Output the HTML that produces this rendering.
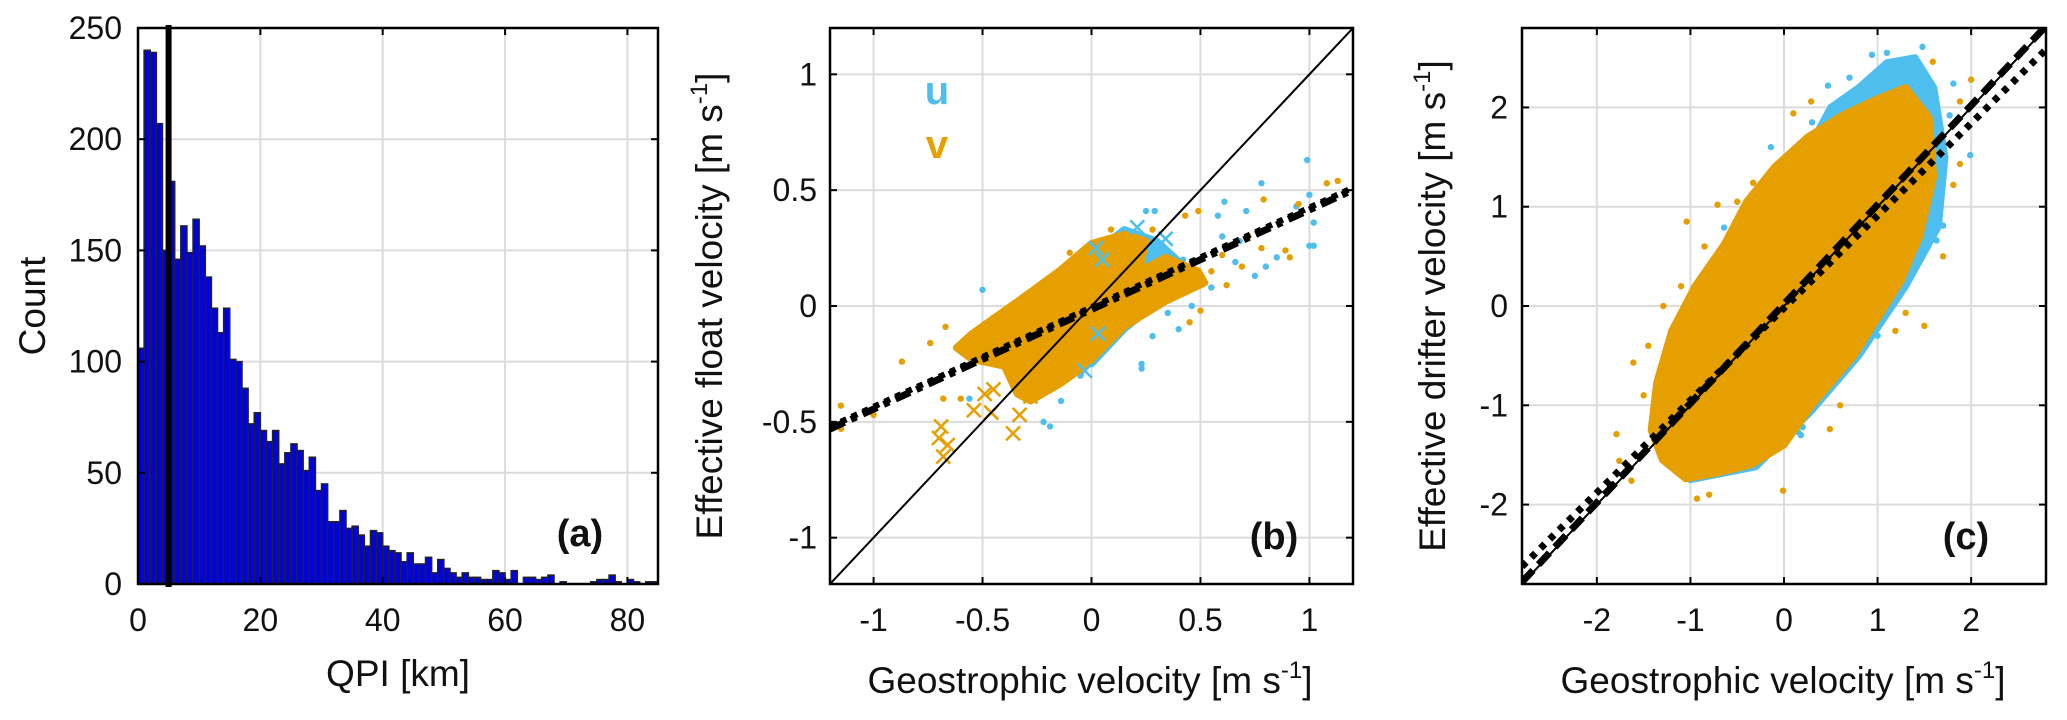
<!DOCTYPE html>
<html><head><meta charset="utf-8"><style>
html,body{margin:0;padding:0;background:#fff;}
svg{display:block;font-family:"Liberation Sans",Arial,sans-serif;}
</style></head><body>
<svg id="fig" width="2067" height="720" viewBox="0 0 2067 720"></svg>
<script>
// ---------- Panel (a) data ----------
const histCounts=[106,240,239,207,150,181,146,161,149,164,152,138,124,113,124,101,100,88,72,77,69,64,69,54,59,63,60,51,57,42,45,28,28,33,25,26,22,17,24,23,17,15,14,10,14,9,9,12,5,11,7,5,3,5,3,3,2,2,6,5,2,6,0,3,3,2,3,4,0,1,0,0,0,0,1,2,2,4,1,0,2,1,0,1,1];
const histXTicks=[0,20,40,60,80];
const histYTicks=[0,50,100,150,200,250];
const qpiThreshold=5;
// ---------- Panel (b) data ----------
const bTicks=[-1,-0.5,0,0.5,1];
const bTickLabels=["-1","-0.5","0","0.5","1"];
const bBlobV=[[-0.62,-0.18],[-0.55,-0.12],[-0.34,0.02],[-0.15,0.15],[0,0.27],[0.15,0.31],[0.25,0.28],[0.22,0.15],[0.34,0.21],[0.49,0.15],[0.52,0.1],[0.34,0.02],[0.15,-0.09],[-0.03,-0.26],[-0.15,-0.34],[-0.28,-0.41],[-0.34,-0.38],[-0.4,-0.26],[-0.55,-0.23]];
const bBlobU=[[0.0,0.22],[0.15,0.33],[0.3,0.28],[0.45,0.15],[0.35,0.05],[0.15,-0.1],[0.0,-0.25],[-0.1,-0.15]];
const bPtsU=[[0.78,0.53],[1.0,0.48],[1.02,0.36],[1.02,0.26],[0.61,0.45],[0.58,0.39],[0.71,0.41],[0.85,0.21],[0.8,0.17],[0.75,0.13],[0.29,0.41],[0.25,0.41],[-0.5,0.07],[0.23,-0.25],[0.23,-0.27],[-0.19,-0.52],[-0.22,-0.5],[0.28,-0.13],[-0.56,-0.4],[-0.14,-0.41],[0.94,0.43],[0.66,0.19],[0.46,0],[0.55,0.08],[0.38,0.05],[0.99,0.63],[1.0,0.26],[0.6,0.3],[0.68,0.28],[0.42,0.2],[0.35,-0.03],[0.4,-0.1],[-0.05,-0.3],[-0.1,-0.2],[0.05,-0.18]];
const bPtsV=[[-0.87,-0.24],[-1.0,-0.47],[-1.15,-0.43],[-1.15,-0.53],[-0.74,-0.16],[-0.67,-0.09],[-0.68,-0.4],[-0.6,-0.4],[0.49,0.41],[0.79,0.46],[1.08,0.53],[1.13,0.54],[0.91,0.21],[0.89,0.24],[0.78,0.25],[0.5,-0.02],[0.45,-0.07],[0.62,0.09],[0.69,0.17],[0.43,0.39],[0.28,0.33],[0.09,0.33],[-0.1,0.23],[0.95,0.44],[0.6,0.22],[0.72,0.3],[0.55,0.15],[-0.45,-0.05],[-0.5,-0.2]];
const bCrossV=[[-0.69,-0.52],[-0.66,-0.6],[-0.68,-0.65],[-0.7,-0.57],[-0.54,-0.45],[-0.49,-0.38],[-0.45,-0.36],[-0.46,-0.46],[-0.36,-0.55],[-0.33,-0.47],[-0.28,-0.39],[-0.25,-0.33]];
const bCrossU=[[0.02,0.25],[0.21,0.34],[0.34,0.29],[0.03,-0.12],[-0.03,-0.28],[0.05,0.2]];
const bFit=[0.43,-0.015];
// ---------- Panel (c) data ----------
const cTicks=[-2,-1,0,1,2];
const cTickLabels=["-2","-1","0","1","2"];
const cBlobV=[[-1.42,-1.25],[-1.36,-0.77],[-1.2,-0.25],[-0.95,0.2],[-0.64,0.62],[-0.4,1.05],[-0.1,1.4],[0.25,1.7],[0.62,1.92],[0.98,2.08],[1.3,2.2],[1.55,1.9],[1.6,1.3],[1.45,0.7],[1.25,0.25],[1.05,-0.05],[0.75,-0.5],[0.3,-1.0],[0.0,-1.4],[-0.35,-1.6],[-0.7,-1.68],[-1.05,-1.74],[-1.3,-1.55]];
const cBlobU=[[-1.4,-1.3],[-1.0,-1.75],[-0.3,-1.62],[0.3,-1.05],[0.8,-0.5],[1.3,0.2],[1.65,0.8],[1.72,1.5],[1.6,2.2],[1.4,2.5],[1.1,2.45],[0.8,2.2],[0.5,2.0]];
const cPtsV=[[-1.04,0.85],[0.29,2.06],[0.1,1.94],[-0.33,1.24],[-0.71,1.02],[-1.29,0],[-1.61,-0.57],[-1.79,-1.29],[-1.63,-1.76],[-0.93,-1.94],[-0.01,-1.86],[0.49,-1.24],[1.19,-0.25],[1.3,-0.07],[1.88,1.43],[1.81,1.22],[2.0,2.28],[1.88,2.06],[1.59,2.46],[-1.76,-1.56],[-1.5,-0.9],[-1.45,-0.4],[-0.8,-1.9],[0.6,-1.0],[-0.5,1.05],[-0.85,0.6],[-1.1,0.2],[1.7,0.5],[1.5,-0.2]];
const cPtsU=[[1.48,2.61],[0.94,2.53],[0.47,2.22],[-0.14,1.6],[1.99,1.52],[1.7,0.81],[1.63,0.66],[1.16,0.04],[0.15,-1.27],[0.2,-1.22],[0.1,-1.22],[0.18,-1.3],[0.05,-1.28],[0.12,-1.18],[-0.93,-1.67],[-0.64,0.79],[1.77,1.92],[1.81,2.24],[1.1,2.55],[0.7,2.3],[0.3,1.85],[1.0,-0.3]];
const cFitDash=[1.0,0.02];
const cFitDot=[0.93,-0.02];

const NS="http://www.w3.org/2000/svg";
const svg=document.getElementById('fig');
function mk(tag,attrs,parent){const e=document.createElementNS(NS,tag);for(const k in attrs)e.setAttribute(k,attrs[k]);(parent||svg).appendChild(e);return e;}
const BLUE="#4DBEEE", ORANGE="#E69F00";

function axes(x0,y0,x1,y1,xmin,xmax,ymin,ymax){
  return {sx:v=>x0+(v-xmin)/(xmax-xmin)*(x1-x0), sy:v=>y1-(v-ymin)/(ymax-ymin)*(y1-y0), x0,y0,x1,y1};
}
function grid(a,xt,yt,g){
  xt.forEach(v=>{const l=mk('line',{x1:a.sx(v),x2:a.sx(v),y1:a.y0,y2:a.y1,stroke:'#dcdcdc','stroke-width':2},g);
    });
  yt.forEach(v=>{const l=mk('line',{x1:a.x0,x2:a.x1,y1:a.sy(v),y2:a.sy(v),stroke:'#dcdcdc','stroke-width':2},g);
    });
}
function frame(a,xt,yt,xl,yl,yRight,g){
  const tl=7;
  xt.forEach((v,i)=>{const x=a.sx(v);
    mk('line',{x1:x,x2:x,y1:a.y1,y2:a.y1-tl,stroke:'#000','stroke-width':2},g);
    mk('line',{x1:x,x2:x,y1:a.y0,y2:a.y0+tl,stroke:'#000','stroke-width':2},g);
    const t=mk('text',{x:x,y:a.y1+47,'font-size':32,'text-anchor':'middle',fill:'#111'},g);t.textContent=xl[i];
    });
  yt.forEach((v,i)=>{const y=a.sy(v);
    mk('line',{x1:a.x0,x2:a.x0+tl,y1:y,y2:y,stroke:'#000','stroke-width':2},g);
    mk('line',{x1:a.x1,x2:a.x1-tl,y1:y,y2:y,stroke:'#000','stroke-width':2},g);
    const t=mk('text',{x:yRight,y:y+11,'font-size':32,'text-anchor':'end',fill:'#111'},g);t.textContent=yl[i];
    });
  const r=mk('rect',{x:a.x0,y:a.y0,width:a.x1-a.x0,height:a.y1-a.y0,fill:'none',stroke:'#000','stroke-width':2.5},g);
  
}
function label(txt,x,y,rot,g,name,sup){
  const t=mk('text',{x:x,y:y,'font-size':37,'text-anchor':'middle',fill:'#111',transform:rot?`rotate(-90 ${x} ${y})`:''},g);
  t.textContent=txt;
  if(sup){const s=mk('tspan',{'font-size':24,dy:-15},t);s.textContent='-1';const e=mk('tspan',{dy:15},t);e.textContent=']';}
  
}
function panelTag(txt,x,y,g){const t=mk('text',{x:x,y:y,'font-size':38,'font-weight':'bold','text-anchor':'middle',fill:'#111'},g);t.textContent=txt;
  }
function poly(a,pts,color,g,name){
  const p=mk('polygon',{points:pts.map(q=>a.sx(q[0])+','+a.sy(q[1])).join(' '),fill:color,stroke:color,'stroke-width':7,'stroke-linejoin':'round'},g);
  
}
function dots(a,pts,color,g,name){pts.forEach(q=>{const c=mk('circle',{cx:a.sx(q[0]),cy:a.sy(q[1]),r:3.2,fill:color},g);
  });}
function crosses(a,pts,color,g,name){pts.forEach(q=>{const x=a.sx(q[0]),y=a.sy(q[1]),s=7;
  const p=mk('path',{d:`M${x-s},${y-s}L${x+s},${y+s}M${x-s},${y+s}L${x+s},${y-s}`,stroke:color,'stroke-width':2.5},g);
  });}
function fitLine(a,fit,xmin,xmax,g,attrs,name){
  const l=mk('line',Object.assign({x1:a.sx(xmin),y1:a.sy(fit[0]*xmin+fit[1]),x2:a.sx(xmax),y2:a.sy(fit[0]*xmax+fit[1]),stroke:'#000'},attrs),g);
  
}

// ---------- Panel (a) ----------
const ga=mk('g',{});
const A=axes(138,28,658,584,0,85,0,250);
grid(A,histXTicks,histYTicks,ga);
histCounts.forEach((c,i)=>{if(c<=0)return;
  const r=mk('rect',{x:A.sx(i),y:A.sy(c),width:A.sx(i+1)-A.sx(i),height:A.sy(0)-A.sy(c),fill:'#0000E6',stroke:'#222','stroke-width':1.5},ga);
  });
const th=mk('line',{x1:A.sx(qpiThreshold),x2:A.sx(qpiThreshold),y1:A.y0-3,y2:A.y1+3,stroke:'#000','stroke-width':6},ga);

frame(A,histXTicks,histYTicks,histXTicks.map(String),histYTicks.map(String),122,ga);
label('Count',45,306,true,ga,'y-axis-title');
label('QPI [km]',398,686,false,ga,'x-axis-title');
panelTag('(a)',580,546,ga);

// ---------- Panel (b) ----------
const gb=mk('g',{});
const B=axes(830,28,1353,584,-1.2,1.2,-1.2,1.2);
grid(B,bTicks,bTicks,gb);
const cpb=mk('clipPath',{id:'cpb'},gb);mk('rect',{x:B.x0,y:B.y0,width:B.x1-B.x0,height:B.y1-B.y0},cpb);
const gbi=mk('g',{'clip-path':'url(#cpb)'},gb);
poly(B,bBlobU,BLUE,gbi,'u-cluster');
dots(B,bPtsU,BLUE,gbi,'u-point');
poly(B,bBlobV,ORANGE,gbi,'v-cluster');
dots(B,bPtsV,ORANGE,gbi,'v-point');
crosses(B,bCrossU,BLUE,gbi,'u-cross');
crosses(B,bCrossV,ORANGE,gbi,'v-cross');
fitLine(B,[1,0],-1.2,1.2,gbi,{'stroke-width':2},'one-to-one-line');
fitLine(B,bFit,-1.2,1.2,gbi,{'stroke-width':7,'stroke-dasharray':'16 7 6 7'},'fit-line');
fitLine(B,[bFit[0],bFit[1]+0.01],-1.2,1.2,gbi,{'stroke-width':6,'stroke-dasharray':'6 6'},'fit-line-dotted');
frame(B,bTicks,bTicks,bTickLabels,bTickLabels,817,gb);
label('Effective float velocity [m s',722,306,true,gb,'y-axis-title',true);
label('Geostrophic velocity [m s',1090,693,false,gb,'x-axis-title',true);
panelTag('(b)',1274,549,gb);
const lu=mk('text',{x:937,y:104,'font-size':40,'font-weight':'bold','text-anchor':'middle',fill:BLUE},gb);lu.textContent='u';

const lv=mk('text',{x:937,y:158,'font-size':40,'font-weight':'bold','text-anchor':'middle',fill:ORANGE},gb);lv.textContent='v';


// ---------- Panel (c) ----------
const gc=mk('g',{});
const C=axes(1522,28,2046,584,-2.8,2.8,-2.8,2.8);
grid(C,cTicks,cTicks,gc);
const cpc=mk('clipPath',{id:'cpc'},gc);mk('rect',{x:C.x0,y:C.y0,width:C.x1-C.x0,height:C.y1-C.y0},cpc);
const gci=mk('g',{'clip-path':'url(#cpc)'},gc);
poly(C,cBlobU,BLUE,gci,'u-cluster');
dots(C,cPtsU,BLUE,gci,'u-point');
poly(C,cBlobV,ORANGE,gci,'v-cluster');
dots(C,cPtsV,ORANGE,gci,'v-point');
fitLine(C,[1,0],-2.8,2.8,gci,{'stroke-width':2},'one-to-one-line');
fitLine(C,cFitDash,-2.8,2.8,gci,{'stroke-width':7,'stroke-dasharray':'16 8'},'fit-line-dashed');
fitLine(C,cFitDot,-2.8,2.8,gci,{'stroke-width':7,'stroke-dasharray':'6 7'},'fit-line-dotted');
frame(C,cTicks,cTicks,cTickLabels,cTickLabels,1508,gc);
label('Effective drifter velocity [m s',1445,306,true,gc,'y-axis-title',true);
label('Geostrophic velocity [m s',1783,693,false,gc,'x-axis-title',true);
panelTag('(c)',1966,549,gc);
</script>
</body></html>
